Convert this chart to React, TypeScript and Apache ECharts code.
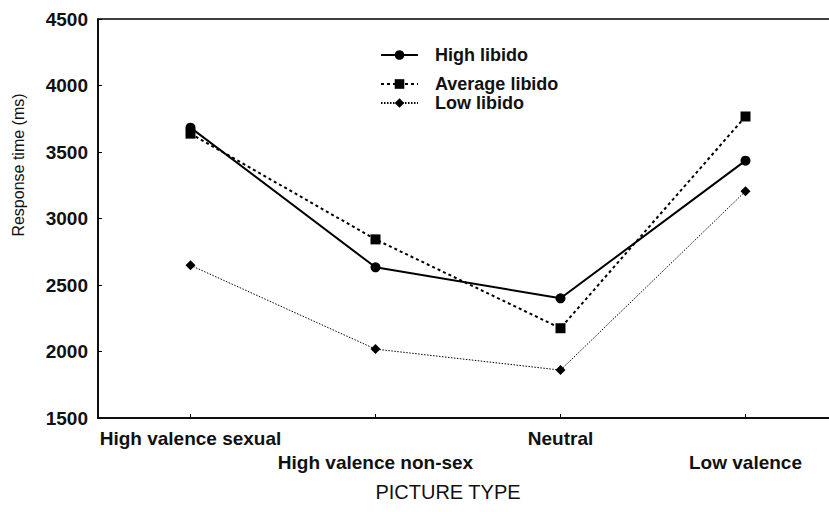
import React, { useEffect, useRef } from "react";
import * as echarts from "echarts";

const categories = ["High valence sexual", "High valence non-sex", "Neutral", "Low valence"];
const highLibido = [3683, 2633, 2400, 3435];
const averageLibido = [3638, 2843, 2175, 3767];
const lowLibido = [2648, 2018, 1860, 3205];
const seriesNames = ["High libido", "Average libido", "Low libido"];
const yMin = 1500;
const yMax = 4500;
const yStep = 500;

const FONT = "Liberation Sans, Arial, sans-serif";

export default function App() {
  const ref = useRef<HTMLDivElement>(null);
  useEffect(() => {
    if (!ref.current) return;
    const chart = echarts.init(ref.current, undefined, { renderer: "svg" });
    const legendTops = [53, 82, 101];
    chart.setOption({
      animation: false,
      backgroundColor: "#fff",
      textStyle: { fontFamily: FONT },
      grid: {
        left: 98,
        top: 19,
        width: 740,
        height: 399,
        show: true,
        borderColor: "#000",
        borderWidth: 1.5,
        containLabel: false,
        outerBoundsMode: "none",
      },
      legend: seriesNames.map((n, i) => ({
        data: [n],
        left: 380,
        top: legendTops[i] - 7,
        itemWidth: 37,
        itemHeight: 12,
        padding: 0,
        textStyle: {
          fontFamily: FONT,
          fontSize: 18,
          fontWeight: "bold",
          color: "#111",
          padding: [0, 0, 0, 12],
        },
      })),
      xAxis: {
        type: "category",
        data: categories,
        boundaryGap: true,
        axisLine: { show: true, lineStyle: { color: "#000", width: 1.5 } },
        axisTick: { show: true, alignWithLabel: true, inside: true, length: 4, lineStyle: { color: "#000" } },
        axisLabel: {
          interval: 0,
          margin: 8,
          fontFamily: FONT,
          fontSize: 19,
          fontWeight: "bold",
          color: "#111",
          lineHeight: 24,
          formatter: (v: string, i: number) => (i % 2 ? "\n" + v : v),
        },
        splitLine: { show: false },
      },
      yAxis: {
        type: "value",
        min: yMin,
        max: yMax,
        interval: yStep,
        axisLine: { show: true, lineStyle: { color: "#000", width: 1.5 } },
        axisTick: { show: true, inside: true, length: 4, lineStyle: { color: "#000" } },
        axisLabel: {
          margin: 10,
          fontFamily: FONT,
          fontSize: 19,
          fontWeight: "bold",
          color: "#111",
          formatter: (v: number) => String(v),
        },
        splitLine: { show: false },
      },
      graphic: [
        {
          type: "text",
          x: 18,
          y: 165,
          rotation: Math.PI / 2,
          style: {
            text: "Response time (ms)",
            fontFamily: FONT,
            fontSize: 16,
            fill: "#111",
            align: "center",
            verticalAlign: "middle",
          },
        },
        {
          type: "text",
          x: 448,
          y: 492,
          style: {
            text: "PICTURE TYPE",
            fontFamily: FONT,
            fontSize: 20,
            fill: "#111",
            align: "center",
            verticalAlign: "middle",
          },
        },
      ],
      series: [
        {
          name: seriesNames[0],
          type: "line",
          data: highLibido,
          symbol: "circle",
          symbolSize: 10,
          itemStyle: { color: "#000" },
          lineStyle: { color: "#000", width: 2, type: "solid" },
          z: 3,
        },
        {
          name: seriesNames[1],
          type: "line",
          data: averageLibido,
          symbol: "rect",
          symbolSize: 10,
          itemStyle: { color: "#000" },
          lineStyle: { color: "#000", width: 2, type: [3, 3] },
          z: 2,
        },
        {
          name: seriesNames[2],
          type: "line",
          data: lowLibido,
          symbol: "diamond",
          symbolSize: 10,
          itemStyle: { color: "#000" },
          lineStyle: { color: "#000", width: 1, type: [1.5, 1.5] },
          z: 1,
        },
      ],
    });
    return () => chart.dispose();
  }, []);
  return (
    <div
      ref={ref}
      style={{ position: "fixed", left: 0, top: 0, width: 829, height: 512, background: "#fff" }}
    />
  );
}
